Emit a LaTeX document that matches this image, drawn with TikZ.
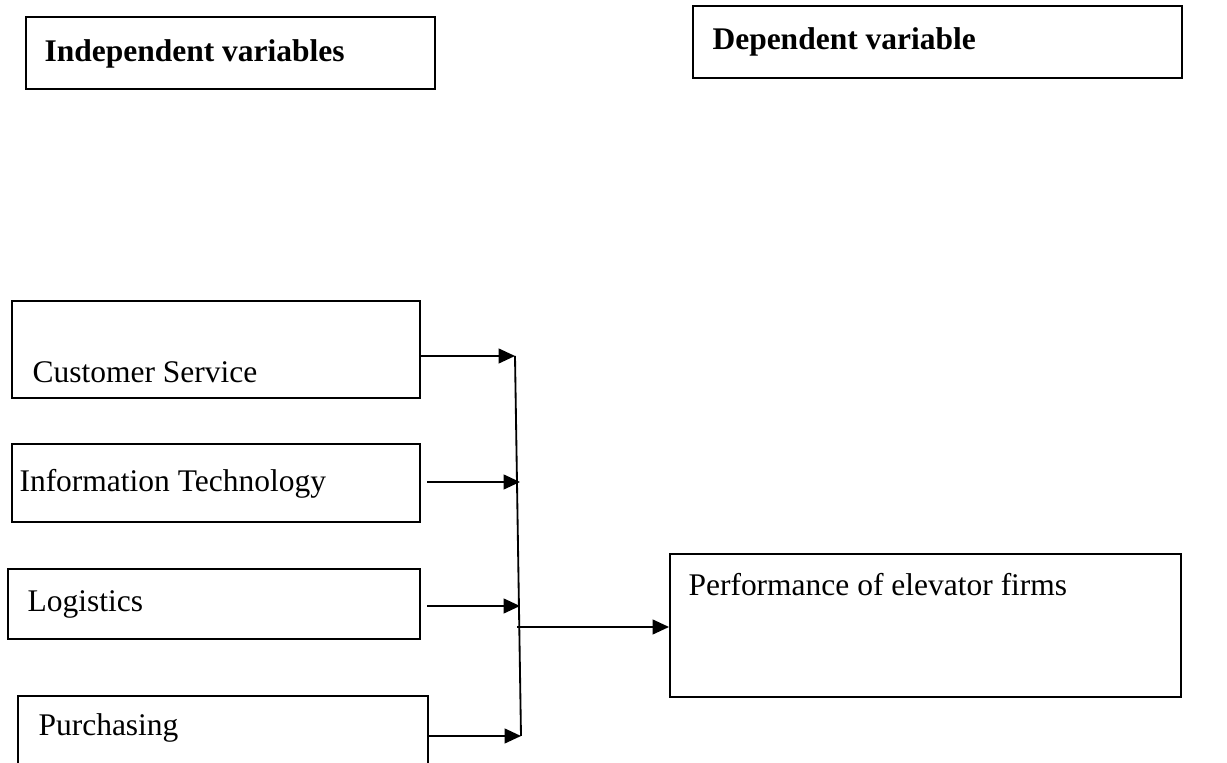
\documentclass[tikz,border=0pt]{standalone}
\usepackage{fontspec}
\setmainfont{Liberation Serif}
\usetikzlibrary{arrows.meta}
\newcommand{\pxu}{0.381pt}

\begin{document}
\begin{tikzpicture}[x=\pxu,y=-\pxu,
  varbox/.style={draw, line width=0.8pt, inner sep=0pt, anchor=north west},
  vartext/.style={anchor=base west, inner sep=0pt, font=\fontsize{12}{14}\selectfont},
  feed/.style={line width=0.7pt, -{Triangle[length=6.2pt,width=5.6pt]}}]
\clip (0,0) rectangle (1227,763);
% headings
\node[varbox, minimum width=409*\pxu, minimum height=72*\pxu] (indep) at (25,16) {};
\node[vartext] (indeptext) at (44,62) {\bfseries Independent variables};
\node[varbox, minimum width=489*\pxu, minimum height=72*\pxu] (dep) at (692,5) {};
\node[vartext] (deptext) at (712,50) {\bfseries Dependent variable};
% independent variables
\node[varbox, minimum width=408*\pxu, minimum height=97*\pxu] (cs) at (11,300) {};
\node[vartext] (cstext) at (32,383) {Customer Service};
\node[varbox, minimum width=408*\pxu, minimum height=78*\pxu] (it) at (11,443) {};
\node[vartext] (ittext) at (19,492) {Information Technology};
\node[varbox, minimum width=412*\pxu, minimum height=70*\pxu] (log) at (7,568) {};
\node[vartext] (logtext) at (27,612) {Logistics};
\node[varbox, minimum width=410*\pxu, minimum height=90*\pxu] (pur) at (17,695) {};
\node[vartext] (purtext) at (38,736) {Purchasing};
% dependent variable
\node[varbox, minimum width=511*\pxu, minimum height=143*\pxu] (perf) at (669,553) {};
\node[vartext] (perftext) at (688,596) {Performance of elevator firms};
% collecting line
\coordinate (j1) at (515,356);
\coordinate (j2) at (520,482);
\coordinate (j3) at (520,606);
\coordinate (j4) at (521,736);
\coordinate (hub) at (517,627);
\draw[line width=0.7pt] (j1) -- (j4);
\draw[feed] (cs.east |- j1) -- (j1);
\draw[feed, shorten <=6*\pxu] (it.east |- j2) -- (j2);
\draw[feed, shorten <=6*\pxu] (log.east |- j3) -- (j3);
\draw[feed] (pur.east |- j4) -- (j4);
\draw[feed] (hub) -- (hub -| perf.west);
\end{tikzpicture}
\end{document}
